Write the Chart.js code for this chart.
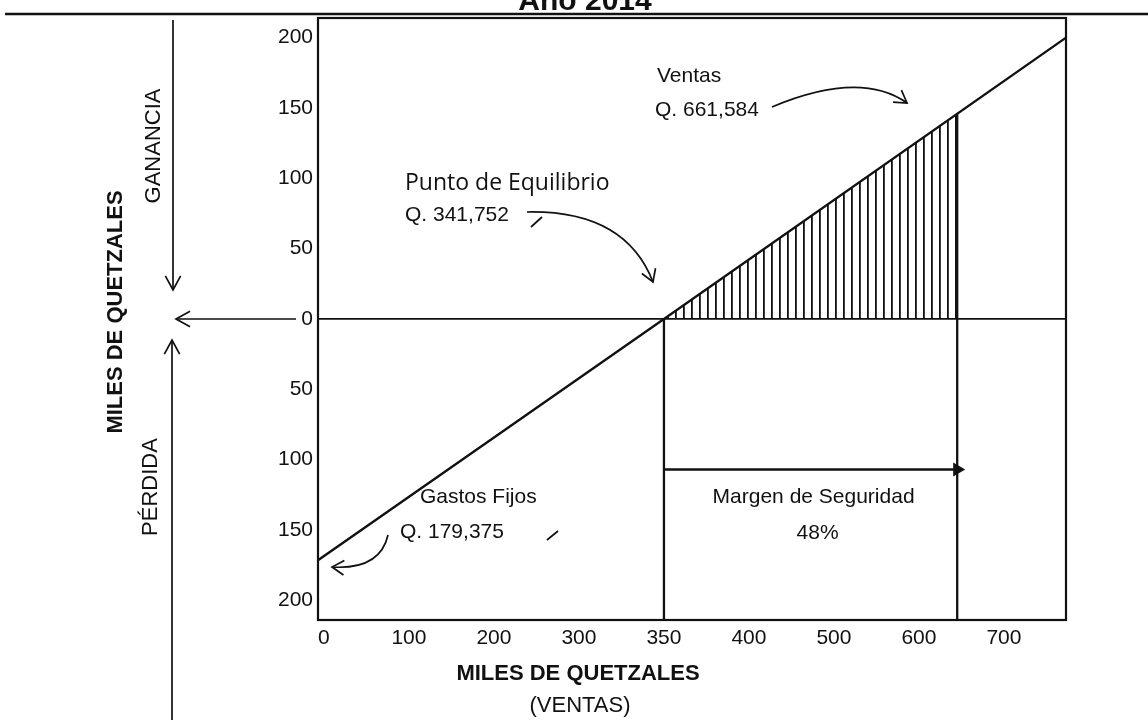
<!DOCTYPE html>
<html lang="es">
  <head>
    <meta charset="UTF-8" />
    <title>Punto de Equilibrio - Año 2014</title>
    <script src="https://cdn.jsdelivr.net/npm/chart.js"></script>
    <style>
      html, body { margin: 0; padding: 0; background: #fff; }
      #chart { display: block; }
    </style>
  </head>
  <body>
    <canvas id="chart" width="1148" height="720"></canvas>

    <script>
      // values in miles de quetzales
      const xTicks = [0, 100, 200, 300, 350, 400, 500, 600, 700];
      const yTicks = [-200, -150, -100, -50, 0, 50, 100, 150, 200];
      const xRange = [-7, 773];
      const yRange = [-214, 214];

      const salesX = [-7, 350, 773];
      const salesY = [-171.5, 0, 200];

      const breakevenX = 350;
      const salesLevelX = 645;
      const profitAtSales = 146;
      const marginArrowY = -107;

      const FONT = "'Liberation Sans', Arial, sans-serif";
      const INK = "#111";

      // the drawing spaces the tick labels evenly, so map values piecewise between them
      function toSlot(v) {
        const t = xTicks, n = t.length;
        let i = 0;
        if (v >= t[n - 1]) i = n - 2;
        else if (v > t[0]) while (v > t[i + 1]) i++;
        return i + (v - t[i]) / (t[i + 1] - t[i]);
      }
      function fromSlot(s) {
        const t = xTicks, n = t.length;
        const i = Math.max(0, Math.min(n - 2, Math.floor(s)));
        return t[i] + (s - i) * (t[i + 1] - t[i]);
      }

      class SlotScale extends Chart.LinearScale {
        static id = "slot";
        buildTicks() {
          return xTicks.map((v) => ({ value: v }));
        }
        getPixelForValue(v) {
          const a = toSlot(this.min), b = toSlot(this.max);
          return this.getPixelForDecimal((toSlot(v) - a) / (b - a));
        }
        getValueForPixel(p) {
          const a = toSlot(this.min), b = toSlot(this.max);
          return fromSlot(a + this.getDecimalForPixel(p) * (b - a));
        }
      }
      Chart.register(SlotScale);

      function makeHatch() {
        const c = document.createElement("canvas");
        c.width = 8;
        c.height = 8;
        const g = c.getContext("2d");
        g.fillStyle = INK;
        g.fillRect(3, 0, 1.8, 8);
        return g.createPattern(c, "repeat");
      }

      function text(ctx, s, x, y, opts = {}) {
        ctx.save();
        ctx.font = (opts.bold ? "bold " : "") + (opts.size || 21) + "px " + (opts.family || FONT);
        ctx.fillStyle = INK;
        ctx.textAlign = opts.align || "left";
        ctx.textBaseline = opts.baseline || "middle";
        ctx.translate(x, y);
        if (opts.rot) ctx.rotate(opts.rot);
        ctx.fillText(s, 0, 0);
        ctx.restore();
      }

      function line(ctx, pts, w = 1.7) {
        ctx.beginPath();
        ctx.moveTo(pts[0][0], pts[0][1]);
        for (let i = 1; i < pts.length; i++) ctx.lineTo(pts[i][0], pts[i][1]);
        ctx.lineWidth = w;
        ctx.stroke();
      }

      // open "V" head at (x, y) pointing along angle a
      function head(ctx, x, y, a, len = 14, spread = 0.55) {
        line(ctx, [
          [x - len * Math.cos(a - spread), y - len * Math.sin(a - spread)],
          [x, y],
          [x - len * Math.cos(a + spread), y - len * Math.sin(a + spread)],
        ]);
      }

      function curveArrow(ctx, p0, c, p1) {
        ctx.beginPath();
        ctx.moveTo(p0[0], p0[1]);
        ctx.quadraticCurveTo(c[0], c[1], p1[0], p1[1]);
        ctx.lineWidth = 1.7;
        ctx.stroke();
        head(ctx, p1[0], p1[1], Math.atan2(p1[1] - c[1], p1[0] - c[0]));
      }

      const decorations = {
        id: "decorations",
        beforeDraw(chart) {
          const ctx = chart.ctx;
          ctx.save();
          ctx.fillStyle = "#fff";
          ctx.fillRect(0, 0, chart.width, chart.height);
          ctx.restore();
        },
        afterDraw(chart) {
          const ctx = chart.ctx;
          const { left, right, top, bottom } = chart.chartArea;
          ctx.save();
          ctx.strokeStyle = INK;
          ctx.lineCap = "butt";

          // title (cut by the page top) and rule
          text(ctx, "Año 2014", 585, 10, { bold: true, size: 30, align: "center", baseline: "alphabetic" });
          line(ctx, [[5, 14], [chart.width, 14]], 2.4);

          // frame
          ctx.lineWidth = 2.2;
          ctx.strokeRect(left, top, right - left, bottom - top);

          // left side captions
          text(ctx, "MILES DE QUETZALES", 116, 312, { bold: true, size: 22, align: "center", rot: -Math.PI / 2 });
          text(ctx, "GANANCIA", 154, 146, { size: 22, align: "center", rot: -Math.PI / 2 });
          text(ctx, "PÉRDIDA", 151, 487, { size: 22, align: "center", rot: -Math.PI / 2 });

          line(ctx, [[173, 20], [173, 290]]);
          head(ctx, 173, 290, Math.PI / 2, 16, 0.5);
          line(ctx, [[176, 319], [296, 319]]);
          head(ctx, 176, 319, Math.PI, 16, 0.5);
          line(ctx, [[172, 720], [172, 340]]);
          head(ctx, 172, 340, -Math.PI / 2, 16, 0.5);

          // x axis captions
          text(ctx, "MILES DE QUETZALES", 578, 674, { bold: true, size: 22, align: "center" });
          text(ctx, "(VENTAS)", 580, 706, { size: 22, align: "center" });

          // annotations
          text(ctx, "Ventas", 657, 76);
          text(ctx, "Q. 661,584", 655, 110);
          curveArrow(ctx, [772, 107], [860, 70], [907, 103]);

          text(ctx, "Punto de Equilibrio", 405, 183, { family: "'Open Sans', 'Noto Sans', sans-serif", size: 23 });
          text(ctx, "Q. 341,752", 405, 215);
          curveArrow(ctx, [527, 212], [625, 210], [653, 282]);
          line(ctx, [[531, 227], [542, 217]]);

          text(ctx, "Gastos Fijos", 420, 497);
          text(ctx, "Q. 179,375", 400, 532);
          curveArrow(ctx, [388, 535], [380, 570], [332, 567]);
          line(ctx, [[547, 540], [558, 531]]);

          const xs = chart.scales.x;
          const mid = (xs.getPixelForValue(breakevenX) + xs.getPixelForValue(salesLevelX)) / 2;
          text(ctx, "Margen de Seguridad", mid + 3, 497, { align: "center" });
          text(ctx, "48%", mid + 7, 533, { align: "center" });

          ctx.restore();
        },
      };

      const pts = (xs, ys) => xs.map((x, i) => ({ x: x, y: ys[i] }));
      const yBottom = yRange[0];

      const lineStyle = {
        borderColor: INK,
        borderWidth: 2.3,
        pointRadius: 0,
        fill: false,
        tension: 0,
      };

      new Chart(document.getElementById("chart"), {
        type: "line",
        data: {
          datasets: [
            {
              label: "Zona de ganancia",
              data: pts([breakevenX, salesLevelX], [0, profitAtSales]),
              borderWidth: 0,
              pointRadius: 0,
              fill: "origin",
              backgroundColor: makeHatch(),
            },
            Object.assign({ label: "Ventas", data: pts(salesX, salesY) }, lineStyle),
            Object.assign(
              { label: "Equilibrio", data: pts([breakevenX, breakevenX], [0, yBottom]) },
              lineStyle
            ),
            Object.assign(
              { label: "Nivel de ventas", data: pts([salesLevelX, salesLevelX], [profitAtSales, yBottom]) },
              lineStyle
            ),
            Object.assign(
              { label: "Margen", data: pts([breakevenX, salesLevelX], [marginArrowY, marginArrowY]) },
              lineStyle,
              {
                pointRadius: [0, 8],
                pointStyle: "triangle",
                rotation: 90,
                pointBackgroundColor: INK,
                pointBorderWidth: 0,
              }
            ),
          ],
        },
        options: {
          responsive: false,
          animation: false,
          layout: { padding: { top: 18, right: 82, bottom: 0, left: 0 } },
          plugins: {
            legend: { display: false },
            tooltip: { enabled: false },
          },
          scales: {
            x: {
              type: "slot",
              min: xRange[0],
              max: xRange[1],
              grid: { display: false, drawTicks: false },
              border: { display: false },
              ticks: {
                autoSkip: false,
                maxRotation: 0,
                padding: 6,
                color: INK,
                font: { family: FONT, size: 21 },
                callback: (v) => String(v),
              },
              afterFit: (s) => { s.height = 100; },
            },
            y: {
              type: "linear",
              min: yRange[0],
              max: yRange[1],
              afterBuildTicks: (s) => { s.ticks = yTicks.map((v) => ({ value: v })); },
              grid: {
                drawTicks: false,
                lineWidth: 1.7,
                color: (c) => (c.tick && c.tick.value === 0 ? INK : "rgba(0,0,0,0)"),
              },
              border: { display: false },
              ticks: {
                padding: 5,
                color: INK,
                font: { family: FONT, size: 21 },
                callback: (v) => String(Math.abs(v)),
              },
              afterFit: (s) => { s.width = 318; },
            },
          },
        },
        plugins: [decorations],
      });
    </script>
  </body>
</html>
